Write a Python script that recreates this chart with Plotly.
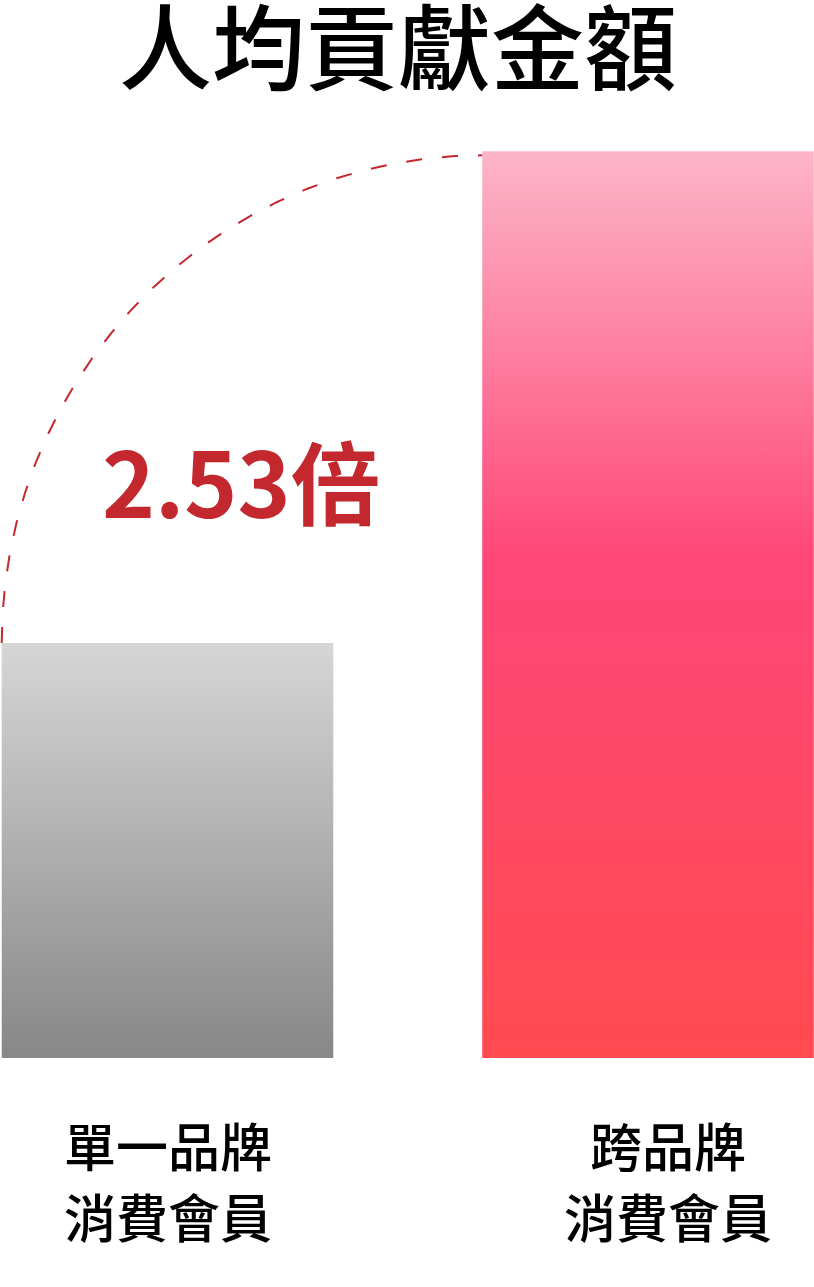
import numpy as np
import plotly.graph_objects as go

# ---- data ----
categories = ["單一品牌<br>消費會員", "跨品牌<br>消費會員"]
label_line1 = ["單一品牌", "跨品牌"]
label_line2 = ["消費會員", "消費會員"]
values = [100.0, 218.5]          # relative per-capita contribution (index)
ratio_label = "2.53倍"
title_text = "人均貢獻金額"

# ---- styles ----
FONT = "Noto Sans CJK TC"
BAR_W = 0.69
gray_scale = [[0.0, "#878787"], [1.0, "#d6d6d6"]]
pink_scale = [[0.0, "#ff4a50"], [0.55, "#ff4677"], [1.0, "#fcb5c9"]]
RED = "#c4282f"
PLOT_TOP, PLOT_BOTTOM = 140, 1058
PLOT_H = PLOT_BOTTOM - PLOT_TOP

fig = go.Figure()

# bars drawn as filled polygons (so they can carry a vertical gradient)
for i, (v, cs) in enumerate(zip(values, [gray_scale, pink_scale])):
    x0, x1 = i - BAR_W / 2, i + BAR_W / 2
    fig.add_trace(go.Scatter(
        x=[x0, x1, x1, x0, x0], y=[0, 0, v, v, 0],
        mode="lines", fill="toself", line=dict(width=0),
        fillgradient=dict(type="vertical", colorscale=cs, start=0, stop=v),
        hoverinfo="text", text=f"{label_line1[i]}{label_line2[i]}: {v}",
        showlegend=False,
    ))

# dashed quarter-ellipse from the top-left of bar 1 to the top-left of bar 2
cx = 1 - BAR_W / 2
cy = values[0]
rx = 1.0
ry = values[1] - values[0] - 1
t = np.linspace(np.pi, np.pi / 2, 200)
fig.add_trace(go.Scatter(
    x=cx + rx * np.cos(t), y=cy + ry * np.sin(t),
    mode="lines", line=dict(color=RED, width=2, dash="16px,20px"),
    hoverinfo="skip", showlegend=False,
))

annotations = [
    dict(x=0.154, y=139.5, xref="x", yref="y", text=f"<b>{ratio_label}</b>",
         showarrow=False, font=dict(family=FONT, size=90, color=RED)),
]
for i in range(2):
    shift = 0 if i == 0 else 20
    for line, ypx in ((label_line1[i], 1144), (label_line2[i], 1215)):
        annotations.append(dict(
            x=i, y=(PLOT_BOTTOM - ypx) / PLOT_H, xref="x", yref="paper",
            text=line, showarrow=False, xshift=shift, yanchor="middle",
            font=dict(family=FONT, size=52, color="#000", weight=500)))

fig.update_layout(
    width=814, height=1287,
    margin=dict(l=0, r=0, t=PLOT_TOP, b=1287 - PLOT_BOTTOM),
    paper_bgcolor="white", plot_bgcolor="white",
    title=dict(text=title_text, x=398 / 814, xanchor="center",
               y=1 - 50 / 1287, yanchor="middle",
               font=dict(family=FONT, size=93, color="#000", weight=500)),
    xaxis=dict(range=[-0.3486, 1.3455], visible=False, fixedrange=True),
    yaxis=dict(range=[0, 221.2], visible=False, fixedrange=True),
    annotations=annotations,
)

fig.write_html("out.html", config={"displayModeBar": False},
               post_script="document.body.style.margin='0';")
